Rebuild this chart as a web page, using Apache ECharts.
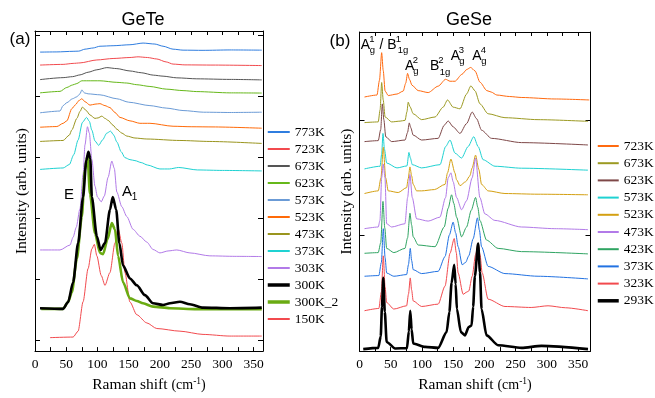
<!DOCTYPE html>
<html><head><meta charset="utf-8">
<script src="https://cdn.jsdelivr.net/npm/echarts@6/dist/echarts.min.js"></script>
<style>html,body{margin:0;padding:0;background:#fff}#c{width:655px;height:398px}</style>
</head><body><div id="c"></div>
<script>
// ---------- GeTe spectra: [Raman shift (cm-1), intensity (arb., offset)] ----------
const GeTe_773K = [[8,304.5],[35,304.7],[61,305.3],[70,305.5],[80,307.5],[93,308.7],[104,310.5],[125,311],[152,312],[173,313.7],[192,312.7],[205,310.5],[221,307.5],[237,306.5],[269,306.3],[312,306.7],[363,306.5]];
const GeTe_723K = [[8,291.3],[45,292],[61,293],[72,293.5],[99,296.5],[125,298],[152,299],[165,299.7],[180,299],[195,297.5],[210,294.5],[221,292.3],[240,291.5],[285,291.3],[363,290.8]];
const GeTe_673K = [[8,276.5],[45,278.5],[60,279.5],[72,281.3],[85,284],[99,286.5],[115,288.7],[131,287.7],[152,285.3],[170,283.5],[190,281],[205,280],[227,278.3],[259,277.3],[312,276.7],[363,276.2]];
const GeTe_623K = [[8,263],[40,264.5],[51,268.5],[60,271],[67,272.5],[75,275.3],[85,275.3],[104,275.3],[131,273.7],[147,273],[163,271.3],[184,269.5],[210,266.8],[237,265.3],[259,264.3],[312,263],[363,262.8]];
const GeTe_573K = [[8,242.7],[40,244.5],[45,250],[51,253],[60,257],[67,259],[72,262],[75,266],[79,263],[85,262],[104,261],[131,257],[150,253.5],[184,250],[210,247.5],[237,245],[270,243.3],[312,243],[363,243.3]];
const GeTe_523K = [[8,228],[35,228.7],[45,232],[51,234.5],[59,247],[65,251],[70,255],[75,257],[80,254],[88,250.5],[96,251.5],[104,252],[112,250],[120,248],[128,243],[136,238],[152,234.5],[168,232],[184,232],[221,229],[250,228.5],[285,228.3],[363,227]];
const GeTe_473K = [[8,213.5],[45,214.5],[55,220],[59,225.3],[67,237],[72,244],[76,248.5],[82,245],[88,240.5],[96,237],[101,237.5],[107,239.3],[112,237],[117,235],[125,230],[131,226],[139,222],[147,219],[160,217],[179,216],[232,214.5],[280,213.5],[363,211.5]];
const GeTe_373K = [[8,185],[45,186.5],[55,190],[62,200],[69,215],[76,233],[82.5,238],[87,234],[91,225],[96,214],[102,209.5],[108,215],[115,222],[121,224],[126,220],[131,213],[138,203],[144,197],[152,195],[160,194],[170,192],[180,189.5],[200,185.5],[215,185.5],[230,187],[260,184.5],[300,184],[363,183.5]];
const GeTe_303K = [[8,103],[40,103],[56,108],[61,116],[66,126],[72,145],[77,180],[80,210],[84,228.5],[87,222],[91,195],[96,168],[100,157],[106,152],[111,158],[117,177],[123,193.5],[127,186],[131,162],[139,147],[147,137],[157,124],[168,117],[179,111],[189,103.5],[200,100],[213,102],[227,103],[248,100],[280,97],[320,96.5],[363,96.3]];
const GeTe_300K = [[8,43.7],[45,43],[53,50],[61,70],[69,110],[77,157],[82,194],[85.5,203],[88.5,196],[91,157],[99,117],[105,103],[112,110],[120,144],[124.5,157],[130,144],[135,110],[141,87],[152,74],[163,67],[176,57],[189,48.7],[205,47],[216,48.7],[232,50.3],[248,47.7],[269,44.3],[312,43.7],[363,44.3]];
const GeTe_300K_2 = [[10,43],[45,43],[53,50],[59,60],[67,94],[75,137],[80,185],[84,199],[88,160],[96,120],[104,100],[109,98.7],[116,113.7],[123,130.3],[128,124],[133,97],[141,70],[152,53.7],[163,51],[173,48.7],[189,45.3],[216,43.7],[259,42.7],[363,42.7]];
const GeTe_150K = [[24,13.7],[61,14.3],[69,20.3],[77,50.3],[85,84],[91,104],[95,108.7],[99,97],[106,77],[112,67],[120,80],[128,110],[133,125],[139,110],[144,80],[152,50],[163,37],[179,28.7],[195,23],[232,20.3],[269,17],[312,15.3],[363,15.3]];

// ---------- GeSe spectra ----------
const GeSe_723K = [[8,258],[28,260],[32,275],[35.5,303],[38,285],[41,264],[46,259.5],[60,261],[70,264],[74,272],[77,282],[80,276],[84,270],[94,264.5],[110,262.5],[126,269],[138,276],[145,274],[153,274],[164,281],[172,286],[178,288],[185,284.5],[193,273],[204,264.5],[211,263],[220,260],[240,258.5],[260,257.5],[313,256],[368,255]];
const GeSe_673K = [[8,232],[30,232.7],[33,245],[35.5,272.7],[38,255],[41,237.7],[51.5,232.7],[65,233.5],[73,234.3],[76,243],[78,252.7],[81,248],[86,241],[99.5,235],[121,237.7],[134,247.7],[141,255],[150,247.7],[161,246],[171.5,261],[178.4,269.3],[185,264.3],[193,251],[206,241],[233,237],[286,235],[366,233.3]];
const GeSe_623K = [[8,212.7],[30,213.7],[34,225],[36.5,251],[39,235],[42,217.7],[51.5,212.7],[73,214.3],[77,222],[79.7,231.7],[82,227],[86,219.3],[99.5,214.3],[126,216],[135.7,229.3],[142,233.7],[150,227.7],[161,221],[171.5,231],[180.5,242.7],[187.5,236],[195.5,224.3],[211.5,216],[259.5,211.7],[366,209.3]];
const GeSe_573K = [[8,185],[33,187.7],[35.5,200],[37.6,221],[40,205],[43.5,191],[60,186],[76,188],[79.2,201.7],[81.5,196],[84.5,189.3],[99.5,186],[129,189.3],[138,207.7],[145,214.3],[153,201],[163.5,196],[174,207.7],[183,217.7],[190,207.7],[198,194.3],[217,187.7],[259.5,185.7],[366,183.7]];
const GeSe_523K = [[8,160],[30,162.7],[34.4,176],[38.1,207],[41.9,176],[46,162.7],[62,161],[75.5,166],[78,175],[80.8,187],[83.5,178],[86,169.3],[91.5,162.7],[99.5,162.7],[120,164],[137,169.3],[141,181],[146.4,195],[152.8,181],[155.5,174],[161,168],[170,172],[176.8,178],[180.5,186],[185.9,199],[191.2,184.3],[195.5,169.3],[206,162.7],[233,160],[286,159.3],[366,158.7]];
const GeSe_473K = [[8,124.3],[30,126],[32.8,132.7],[35.5,176],[38,190],[40.8,176],[43.5,129.3],[51.5,126],[72.8,129.3],[77.1,156],[80.8,179.3],[84.5,156],[91.5,134.3],[110,132],[128.8,136],[137.9,156],[142.1,176],[146.4,181],[150,172],[155.5,156],[163.5,143.5],[171.5,152.7],[180.5,176],[185.9,196],[192.8,156],[200.8,139.3],[216.8,132.7],[259.5,126],[312.8,124.3],[366,123.3]];
const GeSe_423K = [[8,99.3],[30,100],[34,110],[37.6,152],[40.5,125],[43.5,104.3],[55,100],[72.8,104.3],[77,115],[80.8,140],[83.5,128],[86,116],[94,107.7],[121,106],[135.7,126],[142,145],[147.5,158.7],[151,150],[155.5,136],[163.5,116],[171.5,126],[179,143],[185.9,156],[189.5,146],[192.8,132.7],[203.5,112.7],[222,104.3],[259.5,101],[366,98.7]];
const GeSe_373K = [[8,76],[31,76.7],[35,90],[38.1,124.3],[41,95],[43.5,79.3],[55,76],[75.5,77.7],[78.5,88],[81.3,104.3],[83.5,92],[86,82.7],[99.5,78.7],[126,81],[137,96],[144,118],[150,131],[154,120],[158,106],[164.5,87.7],[170,90],[175,96.7],[182,114],[189,135.3],[192,123],[195.5,106],[206,86],[233,78.7],[286,76],[366,73.3]];
const GeSe_323K = [[8,41],[31,43.3],[35,60],[38.1,96.7],[41,65],[43.5,49.3],[55,42.7],[75.5,46],[78.5,58],[81.3,74.3],[83.5,62],[86,51],[99.5,45.3],[126,47.7],[137,66],[145,99.3],[151.7,114.3],[155,100],[158,79.3],[166,57.7],[172,60],[175,61],[180.5,76],[186,98],[190,109.3],[193,98],[196.5,79.3],[206,52.7],[233,45.3],[275,44.3],[302,46],[330,44],[366,41]];
const GeSe_293K = [[6,2],[30,3.3],[34,15],[36,45],[38.1,74.3],[40.5,40],[43.5,9.3],[57,2.7],[76,3],[79,20],[81.3,41],[83.5,22],[86,7.7],[105,4.3],[126,3.3],[139.5,19.3],[144,40],[147.5,69.3],[151.7,87.7],[154,68],[156,42.7],[162.4,19.3],[168.8,16],[175,24.3],[179.5,26],[182,45],[184.8,76],[190,109.3],[193,80],[195.5,42.7],[203.5,16],[222,6],[259.5,3.3],[291.5,5.3],[366,2]];

// ---------- names / axes ----------
const geteNames = ['773K','723K','673K','623K','573K','523K','473K','373K','303K','300K','300K_2','150K'];
const geteData  = [GeTe_773K,GeTe_723K,GeTe_673K,GeTe_623K,GeTe_573K,GeTe_523K,GeTe_473K,GeTe_373K,GeTe_303K,GeTe_300K,GeTe_300K_2,GeTe_150K];
const geseNames = ['723K','673K','623K','573K','523K','473K','423K','373K','323K','293K'];
const geseData  = [GeSe_723K,GeSe_673K,GeSe_623K,GeSe_573K,GeSe_523K,GeSe_473K,GeSe_423K,GeSe_373K,GeSe_323K,GeSe_293K];
const xMaxGeTe = 365, xMaxGeSe = 370;
const yMaxGeTe = 326, yMaxGeSe = 324;
const xTickStep = 25, xLabelStep = 50;
const yTicksGeTe = [11, 73.2, 135.4, 197.6, 259.8, 322];
const yTicksGeSe = [117.3, 234.6];

const geteColors = ['#2f7ddf','#f24a4e','#555555','#66b81a','#6b9bd6','#ff6a08','#9a951e','#1fd2d2','#b27ae8','#000000','#6aab12','#f24a4e'];
const geteWidths = [1,1,1,1,1,1,1,1,1,2.6,2.6,1];
const geseColors = ['#ff6a10','#9c9a22','#7e4848','#1fd2d2','#d4a012','#b27ae8','#2fa462','#2272e2','#f24a4e','#000000'];
const geseWidths = [1,1,1,1,1,1,1,1,1,2.6];

const SERIF = 'Liberation Serif', SANS = 'Liberation Sans';

function xAxis(gi, pos, max, labels) {
  return {
    type:'value', gridIndex:gi, position:pos, min:0, max:max, interval:xTickStep,
    axisLine:{show:true, onZero:false, lineStyle:{color:'#000', width:1}},
    axisTick:{show:true, inside:true, length:4, lineStyle:{color:'#000', width:1}},
    axisLabel:{show:labels, margin:6, color:'#000', fontFamily:SERIF, fontSize:13.5,
      formatter: v => (Math.abs(v % xLabelStep) < 1e-6 ? String(v) : '')},
    splitLine:{show:false},
    name: labels ? '{a|Raman shift }{b|(cm}{c|-1}{b|)}' : '',
    nameLocation:'middle', nameGap:23,
    nameTextStyle:{rich:{
      a:{fontFamily:SERIF, fontSize:15.5, color:'#000'},
      b:{fontFamily:SERIF, fontSize:14, color:'#000'},
      c:{fontFamily:SERIF, fontSize:9.5, color:'#000', padding:[0,0,8,0]}
    }}
  };
}
function yAxis(gi, pos, max, ticks, title) {
  return {
    type:'value', gridIndex:gi, position:pos, min:0, max:max,
    axisLine:{show:true, onZero:false, lineStyle:{color:'#000', width:1}},
    axisTick:{show:true, inside:true, length:5, customValues:ticks, lineStyle:{color:'#000'}},
    axisLabel:{show:false, customValues:ticks},
    splitLine:{show:false},
    name: title ? 'Intensity (arb. units)' : '',
    nameLocation:'middle', nameGap:5, nameRotate:90,
    nameTextStyle:{fontFamily:SERIF, fontSize:15.5, color:'#000'}
  };
}

const series = [];
geteNames.forEach((n,i) => series.push({
  type:'line', name:'a|'+n, data:geteData[i], xAxisIndex:0, yAxisIndex:0,
  symbol:'none', smooth:0.25, smoothMonotone:'x',
  lineStyle:{color:geteColors[i], width:geteWidths[i]}, itemStyle:{color:geteColors[i]},
  z: n==='300K' ? 4 : (n==='300K_2' ? 3 : 2), silent:true
}));
geseNames.forEach((n,i) => series.push({
  type:'line', name:'b|'+n, data:geseData[i], xAxisIndex:2, yAxisIndex:2,
  symbol:'none', smooth:0.25, smoothMonotone:'x',
  lineStyle:{color:geseColors[i], width:geseWidths[i]}, itemStyle:{color:geseColors[i]},
  z: 2, silent:true
}));

function txt(x, y, s, size, font) {
  return {type:'text', x:x, y:y, silent:true,
    style:{text:s, fontSize:size, fontFamily:font||SANS, fill:'#000', align:'center', verticalAlign:'middle'}};
}
const graphics = [
  txt(143, 20, 'GeTe', 18), txt(469, 20, 'GeSe', 18),
  txt(20, 39, '(a)', 17), txt(340, 41, '(b)', 17),
  txt(69, 194.5, 'E', 15),
  txt(127, 192, 'A', 15), txt(134.5, 197, '1', 10),
  txt(365.5, 45, 'A', 14), txt(372, 39.5, '1', 9.5), txt(372.5, 50.5, 'g', 9.5),
  txt(381.5, 45, '/', 14),
  txt(392, 45, 'B', 14), txt(398.5, 39.5, '1', 9.5), txt(403, 50.5, '1g', 9.5),
  txt(409.7, 66, 'A', 14), txt(415.5, 60, '2', 9.5), txt(416, 71.5, 'g', 9.5),
  txt(434.7, 66.5, 'B', 14), txt(441, 60.5, '2', 9.5), txt(445, 72, '1g', 9.5),
  txt(455.3, 56, 'A', 14), txt(461.5, 50, '3', 9.5), txt(462, 61.5, 'g', 9.5),
  txt(477, 56, 'A', 14), txt(483.5, 50, '4', 9.5), txt(484, 61.5, 'g', 9.5)
];

function legend(prefix, names, widths, colors, left, top, itemWidth, gap) {
  return {
    orient:'vertical', left:left, top:top, padding:0, itemWidth:itemWidth, itemHeight:14, itemGap:gap,
    selectedMode:false, formatter: n => n.split('|')[1],
    textStyle:{fontFamily:SERIF, fontSize:13.5, color:'#000'},
    itemStyle:{opacity:0},
    data: names.map((n,i) => ({name:prefix+n, itemStyle:{opacity:0}, lineStyle:{width: widths[i]>2 ? 3.5 : 2, color:colors[i]}}))
  };
}

const chart = echarts.init(document.getElementById('c'), null, {renderer:'canvas'});
chart.setOption({
  backgroundColor:'#fff',
  animation:false,
  grid:[
    {left:35, top:31, width:228, height:326, containLabel:false},
    {left:359.5, top:32, width:231, height:324, containLabel:false}
  ],
  xAxis:[xAxis(0,'bottom',xMaxGeTe,true), xAxis(0,'top',xMaxGeTe,false),
         xAxis(1,'bottom',xMaxGeSe,true), xAxis(1,'top',xMaxGeSe,false)],
  yAxis:[yAxis(0,'left',yMaxGeTe,yTicksGeTe,true), yAxis(0,'right',yMaxGeTe,yTicksGeTe,false),
         yAxis(1,'left',yMaxGeSe,yTicksGeSe,true), yAxis(1,'right',yMaxGeSe,yTicksGeSe,false)],
  legend:[
    legend('a|', geteNames, geteWidths, geteColors, 266, 125, 22, 3),
    legend('b|', geseNames, geseWidths, geseColors, 596, 139, 21, 3.2)
  ],
  graphic: graphics,
  series: series
});
</script></body></html>
